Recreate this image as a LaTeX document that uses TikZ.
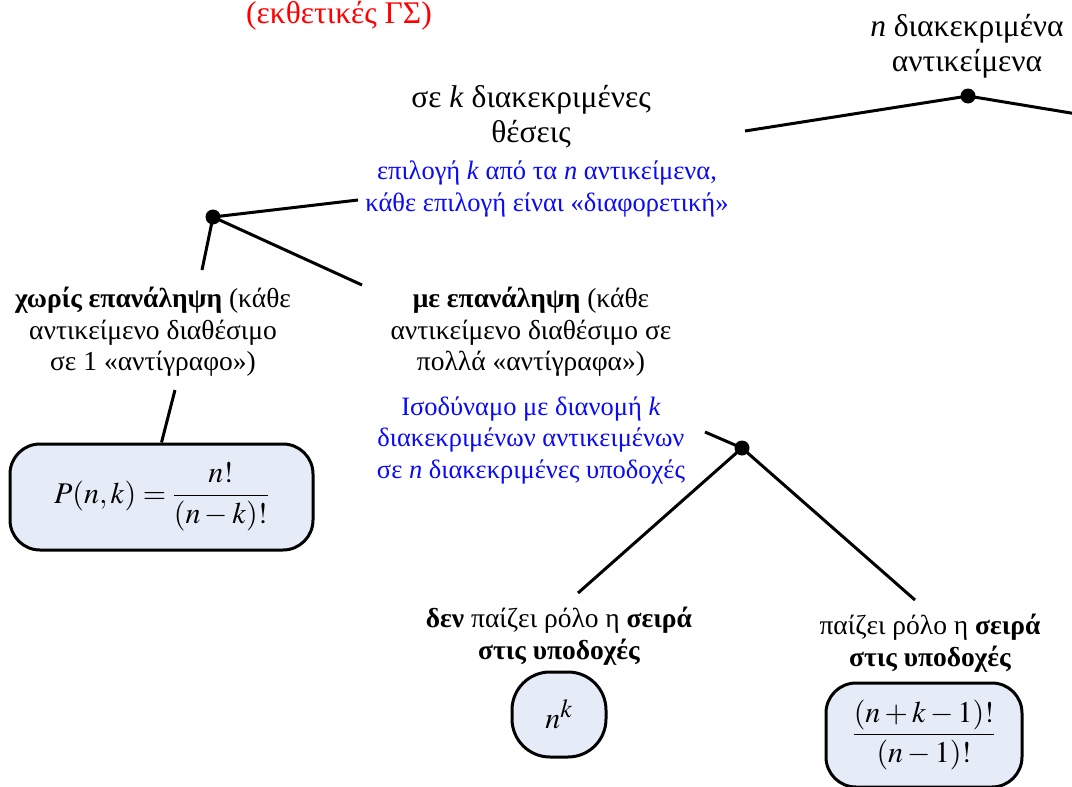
\documentclass[tikz,border=0pt]{standalone}
\usepackage{mathptmx}
\usepackage[no-math]{fontspec}
\setmainfont{Liberation Serif}
\definecolor{boxfill}{RGB}{230,236,247}
\definecolor{myblue}{RGB}{10,10,245}
\tikzset{
  txt/.style={align=center, inner sep=0pt, font=\fontsize{27.5}{31.5}\selectfont},
  bigtxt/.style={align=center, inner sep=0pt, font=\fontsize{31.5}{35}\selectfont},
  bluetxt/.style={align=center, inner sep=0pt, font=\fontsize{26.5}{31.5}\selectfont, text=myblue},
  dot/.style={circle, fill=black, inner sep=0pt, minimum size=15pt},
  conn/.style={line width=3pt},
  fbox/.style={draw, line width=3pt, rounded corners=30pt, fill=boxfill, inner sep=0pt, font=\fontsize{30}{34}\selectfont},
}
\begin{document}
\begin{tikzpicture}[x=1pt,y=-1pt]
\useasboundingbox (0,0) rectangle (1072,787);

% texts
\node[bigtxt, text=red] (red) at (339,16) {(εκθετικές ΓΣ)};
\node[bigtxt] (objs) at (967,46) {\textit{n} διακεκριμένα\\αντικείμενα};
\node[bigtxt] (pos) at (531,117) {σε \textit{k} διακεκριμένες\\θέσεις};
\node[bluetxt] (sel) at (547,189) {επιλογή \textit{k} από τα \textit{n} αντικείμενα,\\κάθε επιλογή είναι «διαφορετική»};
\node[txt] (norep) at (153,332) {\textbf{χωρίς επανάληψη} (κάθε\\αντικείμενο διαθέσιμο\\σε 1 «αντίγραφο»)};
\node[txt] (rep) at (531,332) {\textbf{με επανάληψη} (κάθε\\αντικείμενο διαθέσιμο σε\\πολλά «αντίγραφα»)};
\node[bluetxt] (eq) at (531,440) {Ισοδύναμο με διανομή \textit{k}\\διακεκριμένων αντικειμένων\\σε \textit{n} διακεκριμένες υποδοχές};
\node[txt] (noord) at (559,636) {\textbf{δεν} παίζει ρόλο η \textbf{σειρά}\\\textbf{στις υποδοχές}};
\node[txt] (ord) at (930,643) {παίζει ρόλο η \textbf{σειρά}\\\textbf{στις υποδοχές}};

% boxes
\node[fbox, minimum width=303pt, minimum height=106pt] (pbox) at (161.5,497) {$\displaystyle P(n,k)=\frac{n!}{(n-k)!}$};
\node[fbox, minimum width=94pt, minimum height=85pt, rounded corners=38pt] (nk) at (559,714.5) {$n^{\mbox{\fontsize{26}{26}\selectfont$k$}}$};
\node[fbox, minimum width=196pt, minimum height=104pt] (cbox) at (924,735) {$\displaystyle \frac{(n+k-1)!}{(n-1)!}$};

% dots
\node[dot] (d1) at (968,96) {};
\node[dot] (d2) at (213,217) {};
\node[dot] (d3) at (742,448) {};

% connector ends
\coordinate (e1a) at (745,131);
\coordinate (e1b) at (1095,117);
\coordinate (e2a) at (358,200);
\coordinate (e2b) at (202,270);
\coordinate (e2c) at (362,285);
\coordinate (e3) at (175,390);
\coordinate (e4a) at (705,432);
\coordinate (e4b) at (578,593);
\coordinate (e4c) at (915,600);

\draw[conn] (e1a) -- (d1.center) -- (e1b);
\draw[conn] (e2a) -- (d2.center);
\draw[conn] (d2.center) -- (e2b);
\draw[conn] (d2.center) -- (e2c);
\draw[conn] (e3) -- (pbox.north);
\draw[conn] (e4a) -- (d3.center);
\draw[conn] (d3.center) -- (e4b);
\draw[conn] (d3.center) -- (e4c);
\end{tikzpicture}
\end{document}
